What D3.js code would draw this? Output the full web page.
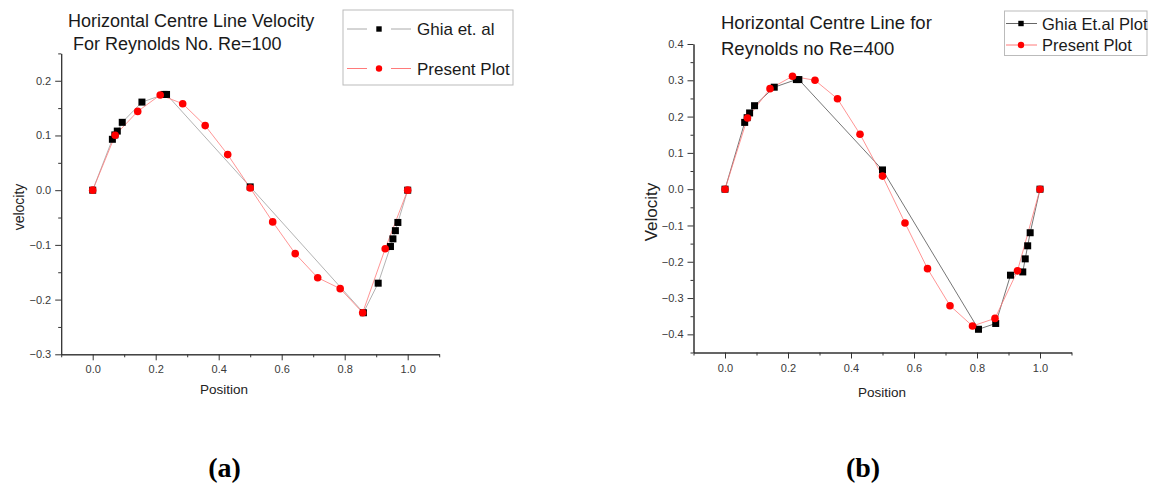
<!DOCTYPE html>
<html>
<head>
<meta charset="utf-8">
<script src="https://cdn.jsdelivr.net/npm/d3@7"></script>
<style>
  body { margin: 0; background: #fff; }
  text { font-family: 'Liberation Sans', Arial, sans-serif; }
</style>
</head>
<body>
<div id="container"></div>
<script>
// ---
// Data
// ---
const ghiaPos = [0, 0.0625, 0.0703, 0.0781, 0.0938, 0.1563, 0.2266, 0.2344, 0.5, 0.8047, 0.8594, 0.9063, 0.9453, 0.9531, 0.9609, 0.9688, 1]
const presentPos = [0, 0.0714, 0.1429, 0.2143, 0.2857, 0.3571, 0.4286, 0.5, 0.5714, 0.6429, 0.7143, 0.7857, 0.8571, 0.9286, 1]

// Re=100 (the Ghia set in panel a has no 0.8047 point)
const ghiaPos100 = [0, 0.0625, 0.0703, 0.0781, 0.0938, 0.1563, 0.2266, 0.2344, 0.5, 0.8594, 0.9063, 0.9453, 0.9531, 0.9609, 0.9688, 1]
const ghiaVel100 = [0, 0.093, 0.101, 0.108, 0.124, 0.161, 0.175, 0.175, 0.006, -0.224, -0.170, -0.103, -0.089, -0.074, -0.059, 0]
const presentVel100 = [0, 0.1005, 0.144, 0.174, 0.158, 0.118, 0.065, 0.004, -0.058, -0.116, -0.160, -0.180, -0.224, -0.107, 0]

// Re=400
const ghiaVel400 = [0, 0.184, 0.197, 0.210, 0.230, 0.281, 0.302, 0.302, 0.053, -0.386, -0.370, -0.237, -0.228, -0.192, -0.156, -0.120, 0]
const presentVel400 = [0, 0.196, 0.277, 0.311, 0.300, 0.249, 0.1515, 0.036, -0.093, -0.219, -0.321, -0.377, -0.356, -0.225, 0]

// Ticks
const xMajor = [0, 0.2, 0.4, 0.6, 0.8, 1.0]
const xMinor = [-0.1, 0.1, 0.3, 0.5, 0.7, 0.9, 1.1]
const yMajor100 = [-0.3, -0.2, -0.1, 0, 0.1, 0.2]
const yMinor100 = [-0.25, -0.15, -0.05, 0.05, 0.15, 0.25]
const yMajor400 = [-0.4, -0.3, -0.2, -0.1, 0, 0.1, 0.2, 0.3, 0.4]
const yMinor400 = [-0.45, -0.35, -0.25, -0.15, -0.05, 0.05, 0.15, 0.25, 0.35]

const zip = (xs, ys) => xs.map((x, i) => [x, ys[i]])
const presentStroke = '#ff7a7a'

const svg = d3.select('#container').append('svg')
  .attr('width', 1151)
  .attr('height', 483)

svg.append('rect').attr('width', 1151).attr('height', 483).attr('fill', '#fff')

function drawPanel (p) {
  const xScale = d3.scaleLinear().domain([-0.1, 1.1]).range(p.xRange)
  const yScale = d3.scaleLinear().domain(p.yDomain).range(p.yRange)
  const g = svg.append('g')

  // Axes
  const xAxisY = p.yRange[0]
  g.append('g')
    .attr('transform', `translate(0, ${xAxisY})`)
    .call(d3.axisBottom(xScale).tickValues(xMajor).tickFormat(d3.format('.1f')).tickSize(6).tickPadding(p.xPad).tickSizeOuter(0))
  g.append('g')
    .attr('transform', `translate(0, ${xAxisY})`)
    .call(d3.axisBottom(xScale).tickValues(xMinor).tickFormat('').tickSize(3).tickSizeOuter(0))

  const yAxisX = p.xRange[0]
  g.append('g')
    .attr('transform', `translate(${yAxisX}, 0)`)
    .call(d3.axisLeft(yScale).tickValues(p.yMajor).tickFormat(d3.format('.1f')).tickSize(6).tickPadding(4).tickSizeOuter(0))
  g.append('g')
    .attr('transform', `translate(${yAxisX}, 0)`)
    .call(d3.axisLeft(yScale).tickValues(p.yMinor).tickFormat('').tickSize(3).tickSizeOuter(0))

  g.selectAll('.domain').attr('stroke', '#333')
  g.selectAll('.tick line').attr('stroke', '#333')
  g.selectAll('.tick text')
    .attr('fill', '#3a3a3a')
    .style('font-size', '11px')
    .style('font-family', "'Liberation Sans', Arial, sans-serif")

  // Labels
  g.append('text')
    .attr('x', p.xLabel[0]).attr('y', p.xLabel[1])
    .attr('text-anchor', 'middle')
    .attr('fill', '#222')
    .style('font-size', '13.5px')
    .text('Position')

  g.append('text')
    .attr('transform', `translate(${p.yLabel[0]}, ${p.yLabel[1]}) rotate(-90)`)
    .attr('text-anchor', 'middle')
    .attr('fill', '#222')
    .style('font-size', p.yLabelSize)
    .text(p.yLabelText)

  p.title.forEach(t => {
    g.append('text')
      .attr('x', t[0]).attr('y', t[1])
      .attr('fill', '#1a1a1a')
      .style('font-size', p.titleSize)
      .style('white-space', 'pre')
      .text(t[2])
  })

  g.append('text')
    .attr('x', p.panelLabel[0]).attr('y', 477)
    .attr('text-anchor', 'middle')
    .style('font-family', "'Liberation Serif', 'Times New Roman', serif")
    .style('font-weight', 'bold')
    .style('font-size', '28px')
    .attr('fill', '#000')
    .text(p.panelLabel[1])

  // Lines
  const line = d3.line().x(d => xScale(d[0])).y(d => yScale(d[1]))
  g.append('path')
    .datum(p.ghia)
    .attr('d', line)
    .attr('fill', 'none')
    .attr('stroke', p.ghiaStroke)
    .attr('stroke-width', 0.9)

  g.append('path')
    .datum(p.present)
    .attr('d', line)
    .attr('fill', 'none')
    .attr('stroke', presentStroke)
    .attr('stroke-width', 0.8)

  // Markers
  const sq = 7
  g.selectAll('rect.ghia')
      .data(p.ghia)
    .enter()
      .append('rect')
      .attr('class', 'ghia')
      .attr('x', d => xScale(d[0]) - sq / 2)
      .attr('y', d => yScale(d[1]) - sq / 2)
      .attr('width', sq)
      .attr('height', sq)
      .attr('fill', '#000')

  g.selectAll('circle.present')
      .data(p.present)
    .enter()
      .append('circle')
      .attr('class', 'present')
      .attr('cx', d => xScale(d[0]))
      .attr('cy', d => yScale(d[1]))
      .attr('r', 3.8)
      .attr('fill', '#ff0000')

  // Legend
  const L = p.legend
  g.append('rect')
    .attr('x', L.box[0] + 0.5).attr('y', L.box[1] + 0.5)
    .attr('width', L.box[2]).attr('height', L.box[3])
    .attr('fill', '#fff')
    .attr('stroke', '#bbb')
    .attr('stroke-width', 1)

  const entries = [
    { label: L.labels[0], stroke: p.ghiaStroke, square: true, y: L.rows[0] },
    { label: L.labels[1], stroke: presentStroke, square: false, y: L.rows[1] }
  ]
  entries.forEach(e => {
    L.segs.forEach(s => {
      g.append('line')
        .attr('x1', s[0]).attr('x2', s[1])
        .attr('y1', e.y).attr('y2', e.y)
        .attr('stroke', e.stroke)
        .attr('stroke-width', 1)
    })
    if (e.square) {
      g.append('rect')
        .attr('x', L.symX - 2.7).attr('y', e.y - 2.7)
        .attr('width', 5.4).attr('height', 5.4)
        .attr('fill', '#000')
    } else {
      g.append('circle')
        .attr('cx', L.symX).attr('cy', e.y)
        .attr('r', 3.2)
        .attr('fill', '#ff0000')
    }
    g.append('text')
      .attr('x', L.textX).attr('y', e.y + L.textDy)
      .attr('fill', '#1a1a1a')
      .style('font-size', L.size)
      .text(e.label)
  })
}

drawPanel({
  xRange: [61.2, 439.2],
  yDomain: [-0.3, 0.25],
  yRange: [354.3, 53.4],
  yMajor: yMajor100,
  yMinor: yMinor100,
  xPad: 5,
  ghia: zip(ghiaPos100, ghiaVel100),
  present: zip(presentPos, presentVel100),
  ghiaStroke: '#aaa',
  xLabel: [224, 394],
  yLabel: [24, 207],
  yLabelText: 'velocity',
  yLabelSize: '14px',
  title: [[68, 27, 'Horizontal Centre Line Velocity'], [68, 50, ' For Reynolds No. Re=100']],
  titleSize: '18px',
  panelLabel: [224.5, '(a)'],
  legend: {
    box: [342.5, 9.5, 170, 75],
    rows: [29, 68.5],
    segs: [[347, 367], [391, 411]],
    symX: 379,
    textX: 417,
    textDy: 6,
    size: '17px',
    labels: ['Ghia et. al', 'Present Plot']
  }
})

drawPanel({
  xRange: [693.5, 1071.5],
  yDomain: [-0.45, 0.4],
  yRange: [352.5, 44],
  yMajor: yMajor400,
  yMinor: yMinor400,
  xPad: 6,
  ghia: zip(ghiaPos, ghiaVel400),
  present: zip(presentPos, presentVel400),
  ghiaStroke: '#666',
  xLabel: [882, 397],
  yLabel: [657, 212],
  yLabelText: 'Velocity',
  yLabelSize: '17px',
  title: [[721, 29, 'Horizontal Centre Line for'], [721, 54.5, 'Reynolds no Re=400']],
  titleSize: '18.5px',
  panelLabel: [863, '(b)'],
  legend: {
    box: [1004, 10.5, 142.5, 44.5],
    rows: [23.5, 45],
    segs: [[1006, 1037]],
    symX: 1021,
    textX: 1042,
    textDy: 6,
    size: '16.5px',
    labels: ['Ghia Et.al Plot', 'Present Plot']
  }
})
</script>
</body>
</html>
